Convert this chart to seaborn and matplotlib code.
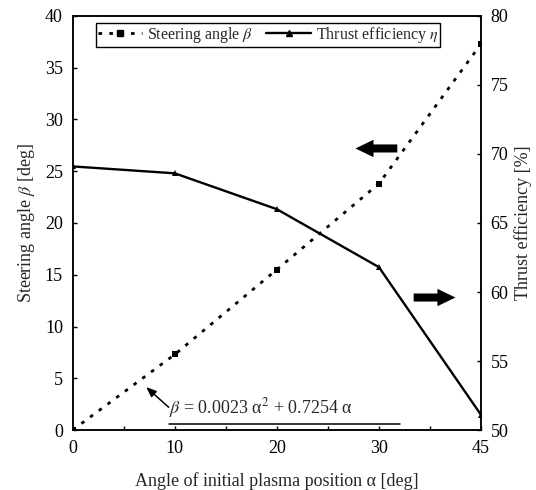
import numpy as np
import pandas as pd
import matplotlib
matplotlib.use("Agg")
import matplotlib.pyplot as plt
import seaborn as sns
from matplotlib.lines import Line2D

# ---- data ----
alpha_labels = ["0", "10", "20", "30", "45"]
steering_angle = [0.0, 7.3, 15.5, 23.8, 37.3]
thrust_eff = [69.1, 68.6, 66.0, 61.8, 51.1]

sns.set_theme(style="white")
plt.rcParams["font.family"] = ["Liberation Serif", "DejaVu Serif"]
plt.rcParams["mathtext.fontset"] = "stix"

pos = np.arange(len(alpha_labels))
df = pd.DataFrame({"pos": pos, "beta": steering_angle, "eta": thrust_eff})

DOT = (0, (1.3, 2.6))

fig = plt.figure(figsize=(5.36, 4.90), dpi=100)
ax = fig.add_axes([0.1356, 0.1224, 0.7618, 0.8450])
ax2 = ax.twinx()

sns.lineplot(data=df, x="pos", y="beta", ax=ax, color="black", linestyle=DOT,
             linewidth=2.0, marker="s", markersize=4.5, markeredgewidth=0, legend=False)
sns.lineplot(data=df, x="pos", y="eta", ax=ax2, color="black", linestyle="-",
             linewidth=1.7, marker="^", markersize=4.5, markeredgewidth=0, legend=False)

ax.set_xlim(0, len(alpha_labels) - 1)
ax.set_ylim(0, 40)
ax2.set_ylim(50, 80)
ax.set_xticks(pos)
ax.set_xticklabels(alpha_labels)
ax.set_xticks(pos[:-1] + 0.5, minor=True)
ax.set_yticks(np.arange(0, 41, 5))
ax2.set_yticks(np.arange(50, 81, 5))

for a in (ax, ax2):
    for s in a.spines.values():
        s.set_color("black")
        s.set_linewidth(1.1)
    a.tick_params(which="both", direction="in", length=3, width=1, colors="black",
                  labelsize=13, pad=7)
ax.tick_params(axis="x", which="minor", length=3, bottom=True)
ax.tick_params(axis="x", which="major", bottom=True)
ax.tick_params(axis="y", left=True)
ax2.tick_params(axis="y", right=True)

ax.set_xlabel(r"Angle of initial plasma position α [deg]", fontsize=13, labelpad=11)
ax.set_ylabel(r"Steering angle $\it{\beta}$ [deg]", fontsize=13, labelpad=6)
ax2.set_ylabel("Thrust efficiency [%]", fontsize=13, labelpad=4)

# legend
h1 = Line2D([], [], color="black", linestyle=DOT, linewidth=2.0,
            marker="s", markersize=4.5)
h2 = Line2D([], [], color="black", linestyle="-", linewidth=1.7, marker="^", markersize=4.5)
leg = ax.legend([h1, h2], [r"Steering angle $\it{\beta}$", r"Thrust efficiency $\it{\eta}$"],
                loc="upper center", bbox_to_anchor=(0.4785, 0.983), ncol=2, fontsize=11.5,
                frameon=True, fancybox=False, edgecolor="black", framealpha=1,
                handlelength=2.8, handletextpad=0.3, columnspacing=0.8,
                borderpad=0.12, borderaxespad=0)
leg.get_frame().set_linewidth(1.0)

# direction arrows
arrow_style = "simple,head_length=1.3,head_width=1.25,tail_width=0.58"
ax.annotate("", xy=(2.77, 27.2), xytext=(3.18, 27.2),
            arrowprops=dict(arrowstyle=arrow_style, mutation_scale=10,
                            fc="black", ec="black", lw=0, shrinkA=0, shrinkB=0))
ax2.annotate("", xy=(3.75, 59.6), xytext=(3.34, 59.6),
             arrowprops=dict(arrowstyle=arrow_style, mutation_scale=10,
                             fc="black", ec="black", lw=0, shrinkA=0, shrinkB=0))

# fit equation annotation
ax.annotate("", xy=(0.72, 4.15), xytext=(0.94, 2.2),
            arrowprops=dict(arrowstyle="-|>,head_length=0.5,head_width=0.2",
                            color="black", lw=1.1, shrinkA=0, shrinkB=0))
ax.text(0.94, 1.0, r"$\it{\beta}$ = 0.0023 α$^2$ + 0.7254 α", fontsize=13,
        ha="left", va="bottom")
ax.plot([0.94, 3.21], [0.62, 0.62], color="black", lw=1.1)

fig.savefig("out.png", dpi=100)
